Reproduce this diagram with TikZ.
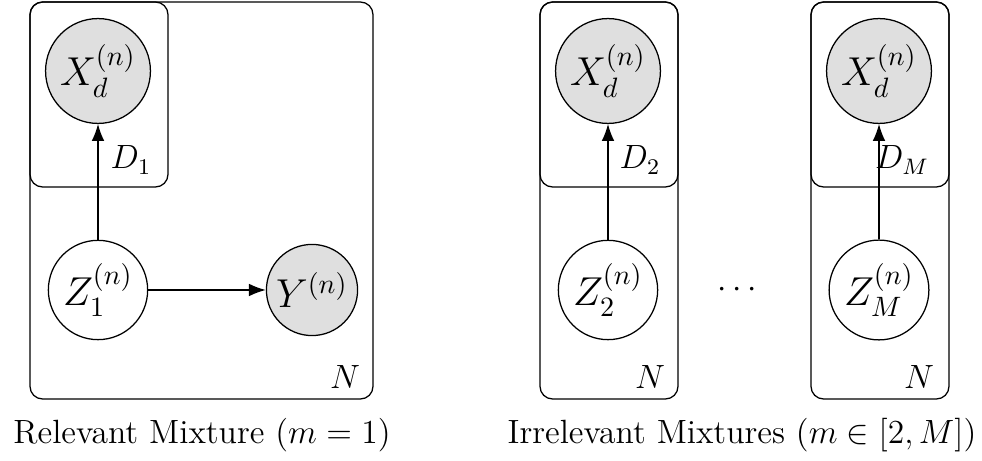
\documentclass[tikz,border=0pt]{standalone}
\usepackage{amsmath}
\usetikzlibrary{arrows.meta}

\tikzset{
  latent/.style={circle, draw, fill=white, font=\Large, inner sep=1.5pt},
  obs/.style={latent, fill=gray!25},
  edge/.style={-{Latex[length=6pt, width=4.5pt]}},
  plate/.style={draw, rounded corners=4.5pt},
  platelabel/.style={font=\large},
}

\begin{document}
\begin{tikzpicture}[x=0.01255cm, y=-0.01255cm, line width=0.45pt]
            \useasboundingbox (0,0) rectangle (982,461);
            % Melange pertinent
            \draw[plate] (30,2) rectangle (373,399);
            \draw[plate] (30,2) rectangle (168,187);
            \node[obs] (X1) at (98,71) {$X_d^{(n)}$};
            \node[latent] (Z1) at (98,290) {$Z_1^{(n)}$};
            \node[obs] (Y) at (312,290) {$Y^{(n)}$};
            \node[platelabel] (D1) at (131,160) {$D_1$};
            \node[platelabel] (N1) at (345,377) {$N$};
            \draw[edge] (Z1) -- (X1);
            \draw[edge] (Z1) -- (Y);
            % Melanges non pertinents
            \draw[plate] (540,2) rectangle (678,399);
            \draw[plate] (540,2) rectangle (678,187);
            \node[obs] (X2) at (608,71) {$X_d^{(n)}$};
            \node[latent] (Z2) at (608,290) {$Z_2^{(n)}$};
            \node[platelabel] (D2) at (640,160) {$D_2$};
            \node[platelabel] (N2) at (650,377) {$N$};
            \draw[edge] (Z2) -- (X2);
            \node[platelabel] (dots) at (740,290) {$\cdots$};
            \draw[plate] (811,2) rectangle (949,399);
            \draw[plate] (811,2) rectangle (949,187);
            \node[obs] (XM) at (879,71) {$X_d^{(n)}$};
            \node[latent] (ZM) at (879,290) {$Z_M^{(n)}$};
            \node[platelabel] (DM) at (902,160) {$D_M$};
            \node[platelabel] (NM) at (919,377) {$N$};
            \draw[edge] (ZM) -- (XM);
            % Legendes
            \node[font=\large] (cap1) at (202,435) {Relevant Mixture ($m=1$)};
            \node[font=\large] (cap2) at (742,435) {Irrelevant Mixtures ($m\in[2,M]$)};
        \end{tikzpicture}
\end{document}
